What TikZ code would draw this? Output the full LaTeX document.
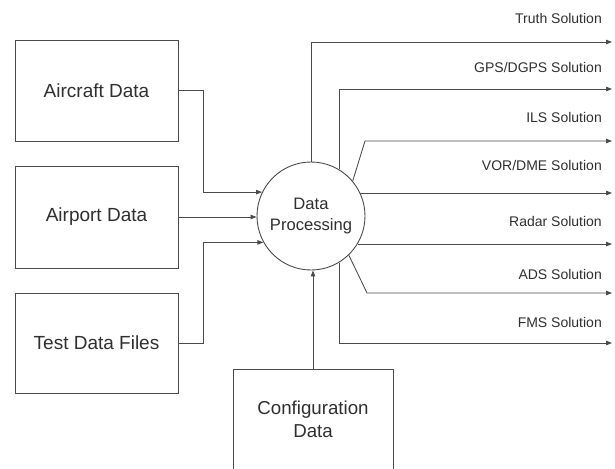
\documentclass[tikz,border=0pt]{standalone}
\usepackage{fontspec}
\setmainfont{Liberation Sans}
\usetikzlibrary{arrows.meta}
\definecolor{ink}{HTML}{2F2F2F}
\definecolor{wire}{HTML}{4A4A4A}
\begin{document}
\begin{tikzpicture}[x=1pt,y=-1pt,
  every node/.style={text=ink},
  srcbox/.style={draw=wire, line width=0.9pt, minimum width=163pt, inner sep=0pt,
    align=center, font=\fontsize{19}{23}\selectfont},
  proc/.style={circle, draw=wire, line width=0.9pt, minimum size=108pt, inner sep=0pt,
    align=center, font=\fontsize{16.6}{21}\selectfont},
  outlabel/.style={anchor=base east, inner sep=0pt, font=\fontsize{14}{16}\selectfont},
  flow/.style={draw=wire, line width=0.85pt, -{Triangle[length=6pt,width=4.5pt]}},
]
\useasboundingbox (0,0) rectangle (615,468);
\clip (0,0) rectangle (615,468);

% input sources
\node[srcbox, minimum height=101pt] (ac) at (96.5,90.5) {Aircraft Data};
\node[srcbox, minimum height=102pt] (ap) at (96.5,217) {Airport Data};
\node[srcbox, minimum height=100pt] (td) at (96.5,343) {Test Data Files};
\node[srcbox, minimum width=160pt, minimum height=100pt,
  font=\fontsize{18.7}{23}\selectfont] (cfg) at (313,419) {Configuration\\Data};

% central process
\node[proc] (dp) at (311,216) {Data\\Processing};

% ends of the output lines
\coordinate (oT) at (612,42);
\coordinate (oG) at (612,89);
\coordinate (kI) at (365,141);
\coordinate (oI) at (612,141);
\coordinate (oV) at (612,193);
\coordinate (oR) at (612,244);
\coordinate (kA) at (367,293);
\coordinate (oA) at (612,293);
\coordinate (oF) at (612,343);

% inputs into the process
\draw[flow] (ac.east) -- ++(25,0) |- (dp.154);
\draw[flow] (ap.east) -- (ap.east -| dp.west);
\draw[flow] (td.east) -- ++(25,0) |- (dp.209);
\draw[flow] (cfg.north) -- (cfg.north |- dp.south);

% outputs
\draw[flow] (dp.north) |- (oT);
\draw[flow] (dp.59) |- (oG);
\draw[flow] (dp.40) -- (kI) -- (oI);
\draw[flow] (dp.25) -- (dp.25 -| oV);
\draw[flow] (dp.-31) -- (dp.-31 -| oR);
\draw[flow] (dp.-46) -- (kA) -- (oA);
\draw[flow] (dp.-59) |- (oF);

% output labels
\node[outlabel] (lT) at (602,24) {Truth Solution};
\node[outlabel] (lG) at (602,73) {GPS/DGPS Solution};
\node[outlabel] (lI) at (602,123) {ILS Solution};
\node[outlabel] (lV) at (602,170) {VOR/DME Solution};
\node[outlabel] (lR) at (602,226) {Radar Solution};
\node[outlabel] (lA) at (602,279) {ADS Solution};
\node[outlabel] (lF) at (602,327) {FMS Solution};
\end{tikzpicture}
\end{document}
